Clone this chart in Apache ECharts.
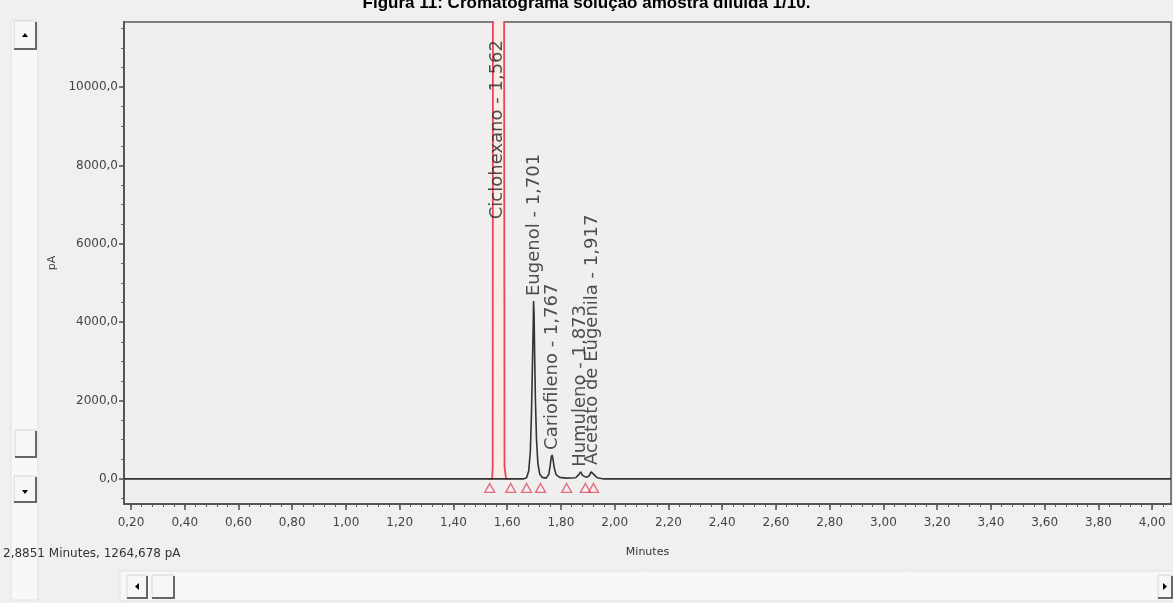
<!DOCTYPE html>
<html>
<head>
<meta charset="utf-8">
<script src="https://cdn.jsdelivr.net/npm/echarts@6/dist/echarts.min.js"></script>
<style>
html,body{margin:0;padding:0;background:#f0f0f0;}
#c{width:1173px;height:603px;}
</style>
</head>
<body>
<div id="c"></div>
<script>
// ---- data ----
const titleText = 'Figura 11: Cromatograma solução amostra diluída 1/10.';
const statusText = '2,8851 Minutes, 1264,678 pA';
const xTicks = [0.2,0.4,0.6,0.8,1.0,1.2,1.4,1.6,1.8,2.0,2.2,2.4,2.6,2.8,3.0,3.2,3.4,3.6,3.8,4.0];
const yTicks = [0,2000,4000,6000,8000,10000];
// detector trace (minutes, pA)
const traceTime   = [0.174,1.660,1.672,1.680,1.686,1.690,1.693,1.695,1.697,1.698,1.700,1.702,1.705,1.709,1.714,1.721,1.730,1.745,1.755,1.760,1.764,1.767,1.770,1.775,1.782,1.795,1.820,1.855,1.866,1.873,1.880,1.895,1.905,1.912,1.917,1.923,1.935,1.960,4.070];
const traceSignal = [0,0,30,200,700,1600,2600,3300,4000,4540,4200,3200,2000,1000,400,120,40,20,120,350,560,612,520,280,110,40,20,30,110,180,90,40,80,180,230,110,30,0,0];
// solvent peak (off scale)
const solventTime   = [1.530,1.544,1.546,1.547,1.562,1.588,1.590,1.596,1.613];
const solventSignal = [0,0,300,15000,90000,15000,300,0,0];
// identified peaks
const peakNames   = ['Ciclohexano','Eugenol','Cariofileno','Humuleno','Acetato de Eugenila'];
const peakTimes   = [1.562,1.701,1.767,1.873,1.917];
const peakHeights = [90000,4540,612,180,230];
// integration markers
const markerTimes = [1.535,1.613,1.672,1.724,1.821,1.891,1.921];
const markerLevel = -230;

// ---- chart ----
const fmtX = v => v.toFixed(2).replace('.', ',');
const fmtY = v => v.toFixed(1).replace('.', ',');
const fmtRT = v => v.toFixed(3).replace('.', ',');
const minorX = []; for (let i = 0; i <= 100; i++) { const v = +(0.16 + i*0.04).toFixed(2); if (v >= 0.174 && v <= 4.07) minorX.push(v); }
const minorY = []; for (let v = -500; v <= 11500; v += 500) minorY.push(v);
const labelCap = 6500;

const chart = echarts.init(document.getElementById('c'), null, {renderer:'canvas'});
const font = 'DejaVu Sans';
function btn(x,y,w,h){
  return [
    {type:'rect', shape:{x:x,y:y,width:w,height:h}, style:{fill:'#f6f6f6', stroke:'#d8d8d8', lineWidth:1}, silent:true},
    {type:'polyline', shape:{points:[[x+w,y+1],[x+w,y+h],[x,y+h]]}, style:{stroke:'#666', lineWidth:2, fill:null}, silent:true}
  ];
}
const gfx = [].concat(
  [{type:'rect', shape:{x:11,y:20,width:27,height:580}, style:{fill:'#f8f8f8', stroke:'#e2e2e2'}, silent:true},
   {type:'rect', shape:{x:120,y:571,width:1053,height:30}, style:{fill:'#f8f8f8', stroke:'#e2e2e2'}, silent:true}],
  btn(14,21,22,28), btn(15,430,21,27), btn(14,476,22,26),
  btn(127,575,20,23), btn(152,575,22,23), btn(1158,575,14,23),
  [{type:'polygon', shape:{points:[[22,37],[28,37],[25,33]]}, style:{fill:'#000'}, silent:true},
   {type:'polygon', shape:{points:[[22,490],[28,490],[25,494]]}, style:{fill:'#000'}, silent:true},
   {type:'polygon', shape:{points:[[139,583],[139,590],[135,586.5]]}, style:{fill:'#000'}, silent:true},
   {type:'polygon', shape:{points:[[1163,583],[1163,590],[1167,586.5]]}, style:{fill:'#000'}, silent:true},
   {type:'text', left:3, top:548, style:{text:statusText, font:'12px "DejaVu Sans"', fill:'#333'}, silent:true}]
);

chart.setOption({
  animation:false,
  backgroundColor:'#f0f0f0',
  title:{text:titleText, left:'center', top:-10, textStyle:{fontFamily:'Liberation Sans', fontWeight:'bold', fontSize:17, color:'#000'}},
  graphic:gfx,
  grid:{left:124, right:2, top:22, bottom:99, show:true, backgroundColor:'#efefef', borderColor:'#7d7d7d', borderWidth:2},
  xAxis:[
    {type:'value', min:0.174, max:4.07, position:'bottom', name:'Minutes', nameLocation:'middle', nameGap:43,
     nameTextStyle:{fontFamily:font, fontSize:11, color:'#333'},
     axisLine:{show:true, onZero:false, lineStyle:{color:'#555', width:2}},
     axisTick:{show:true, customValues:xTicks, length:6, lineStyle:{color:'#555', width:1.5}},
     axisLabel:{show:true, customValues:xTicks, formatter:fmtX, fontFamily:font, fontSize:12, color:'#444', margin:13},
     splitLine:{show:false}},
    {type:'value', min:0.174, max:4.07, position:'bottom',
     axisLine:{show:false, onZero:false}, axisLabel:{show:false}, splitLine:{show:false},
     axisTick:{show:true, customValues:minorX, length:3, lineStyle:{color:'#555', width:1}}}
  ],
  yAxis:[
    {type:'value', min:-640, max:11660, name:'pA', nameLocation:'middle', nameGap:66, nameRotate:90,
     nameTextStyle:{fontFamily:font, fontSize:11, color:'#444'},
     axisLine:{show:true, onZero:false, lineStyle:{color:'#555', width:2}},
     axisTick:{show:true, customValues:yTicks, length:5, lineStyle:{color:'#555', width:1.5}},
     axisLabel:{show:true, customValues:yTicks, formatter:fmtY, fontFamily:font, fontSize:12, color:'#444', margin:6},
     splitLine:{show:false}},
    {type:'value', min:-640, max:11660, position:'left',
     axisLine:{show:false, onZero:false}, axisLabel:{show:false}, splitLine:{show:false},
     axisTick:{show:true, customValues:minorY, length:3, lineStyle:{color:'#666', width:1}}}
  ],
  series:[
    {type:'line', name:'solvent', data:solventTime.map((t,i)=>[t, solventSignal[i]]), showSymbol:false, clip:true,
     lineStyle:{color:'#e2485e', width:1.8}, areaStyle:{color:'#f9ece6', opacity:1}, z:3},
    {type:'line', name:'trace', data:traceTime.map((t,i)=>[t, traceSignal[i]]), showSymbol:false, clip:true,
     lineStyle:{color:'#333', width:1.6}, z:4},
    {type:'scatter', name:'markers', data:markerTimes.map(t=>[t, markerLevel]), symbol:'triangle', symbolSize:[10,9],
     itemStyle:{color:'rgba(0,0,0,0)', borderColor:'#e2485e', borderWidth:1.3}, z:5},
    {type:'scatter', name:'labels', data:peakTimes.map((t,i)=>({value:[t, Math.min(peakHeights[i], labelCap)], name:peakNames[i]})),
     symbolSize:0, z:6,
     label:{show:true, position:'top', distance:5, rotate:90, align:'left', verticalAlign:'middle',
            formatter:p => p.name + ' - ' + fmtRT(p.value[0]), fontFamily:font, fontSize:18, color:'#262626'}}
  ]
});
</script>
</body>
</html>
